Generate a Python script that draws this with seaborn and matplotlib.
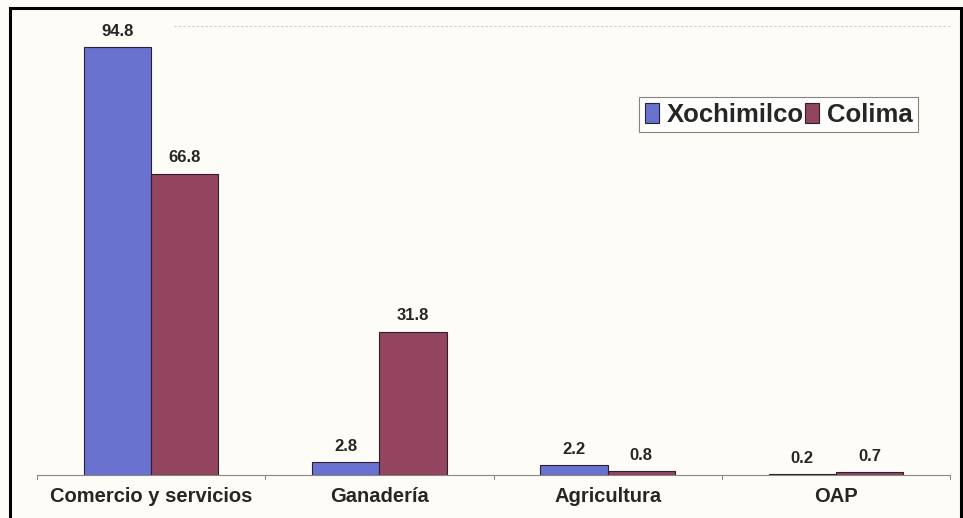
import matplotlib
matplotlib.use("Agg")
import matplotlib.pyplot as plt
import seaborn as sns
import pandas as pd
from matplotlib.patches import Rectangle

categories = ["Comercio y servicios", "Ganadería", "Agricultura", "OAP"]
xochimilco = [94.8, 2.8, 2.2, 0.2]
colima = [66.8, 31.8, 0.8, 0.7]
series = ["Xochimilco", "Colima"]
colors = ["#6a72d0", "#93445e"]

df = pd.DataFrame({
    "cat": categories * 2,
    "val": xochimilco + colima,
    "serie": [series[0]] * 4 + [series[1]] * 4,
})

sns.set_theme(style="white")
plt.rcParams["font.family"] = ["Liberation Sans", "DejaVu Sans"]

fig = plt.figure(figsize=(9.63, 5.18), dpi=100)
fig.patch.set_facecolor("#fdfcf6")
ax = fig.add_axes([37/963, 1 - 475/518, (950-37)/963, (475-24)/518])
ax.set_facecolor("#fdfcf6")

sns.barplot(data=df, x="cat", y="val", hue="serie", order=categories,
            hue_order=series, palette=colors, width=0.59, ax=ax,
            edgecolor="#2a2030", linewidth=0.8, saturation=1)

for cont in ax.containers:
    ax.bar_label(cont, fmt="%.1f", padding=6, fontsize=12, fontweight="bold")

ax.set_ylim(0, 100)
ax.set_xlim(-0.5, 3.5)
ax.set_xlabel("")
ax.set_ylabel("")
ax.set_yticks([])
for s in ["left", "right", "top"]:
    ax.spines[s].set_visible(False)
ax.spines["bottom"].set_color("#888888")
ax.spines["bottom"].set_linewidth(0.8)
ax.set_xticks([0, 1, 2, 3])
ax.set_xticklabels(categories, fontsize=14.5, fontweight="bold")
ax.tick_params(axis="x", length=0, pad=9)
for xb in [-0.5, 0.5, 1.5, 2.5, 3.5]:
    ax.plot([xb, xb], [0, -0.8], color="#888888", lw=0.8, clip_on=False)
ax.axhline(99.5, xmin=0.15, xmax=1.0, color="#cccccc", lw=0.8, ls=(0, (2, 2)))

leg = ax.legend(loc="upper left", bbox_to_anchor=((639-37)/913, 1 - (97-24)/451),
                borderaxespad=0, ncol=2, frameon=True,
                prop={"weight": "bold", "size": 18.5},
                handlelength=0.55, handleheight=0.8, handletextpad=0.3,
                columnspacing=0.05, borderpad=0.22, fancybox=False)
leg.get_frame().set_edgecolor("#666666")
leg.get_frame().set_linewidth(0.8)

fig.patches.append(Rectangle((10/963, -0.02), 951/963, 1 - 8/518 + 0.02,
                             transform=fig.transFigure, fill=False,
                             edgecolor="black", linewidth=2.2))

fig.savefig("out.png", dpi=100, facecolor=fig.get_facecolor())
